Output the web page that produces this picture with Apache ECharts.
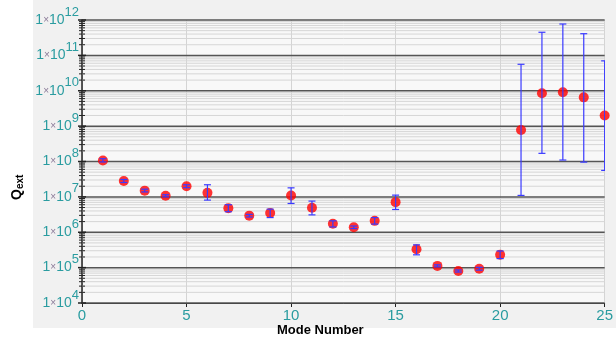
<!DOCTYPE html>
<html><head><meta charset="utf-8">
<script src="https://cdn.jsdelivr.net/npm/echarts@6/dist/echarts.min.js"></script>
<style>html,body{margin:0;padding:0;background:#fff}#c{width:616px;height:340px}</style>
</head><body><div id="c"></div>
<script>
// Mode numbers and Q_ext values with error bar limits
var modes = [1,2,3,4,5,6,7,8,9,10,11,12,13,14,15,16,17,18,19,20,21,22,23,24,25];
var qext = [1.07e8,2.8e7,1.5e7,1.07e7,2.0e7,1.3e7,4.8e6,2.95e6,3.5e6,1.1e7,4.9e6,1.74e6,1.38e6,2.1e6,7.1e6,3.3e5,1.12e5,8.0e4,9.3e4,2.3e5,7.8e8,8.5e9,9.1e9,6.5e9,2.0e9];
var qHigh = [1.2e8,3.1e7,1.65e7,1.15e7,2.2e7,2.2e7,6.0e6,3.2e6,4.5e6,1.8e7,7.6e6,2.1e6,1.5e6,2.6e6,1.12e7,4.4e5,1.2e5,8.6e4,1.02e5,2.95e5,5.6e10,4.5e11,7.7e11,4.1e11,7.0e10];
var qLow = [0.97e8,2.55e7,1.38e7,1.0e7,1.82e7,8.1e6,3.8e6,2.7e6,2.6e6,6.5e6,3.1e6,1.41e6,1.27e6,1.7e6,4.4e6,2.3e5,1.05e5,7.5e4,8.5e4,1.8e5,1.1e7,1.7e8,1.1e8,9.6e7,5.6e7];
var xTicks = [0,5,10,15,20,25];
var yDecades = [4,5,6,7,8,9,10,11,12];

var teal = '#2a9ca0';
var minorVals = [];
for (var d = 4; d < 12; d++) for (var m = 2; m <= 9; m++) minorVals.push([m * Math.pow(10, d)]);
var majorVals = yDecades.map(function(e){return [Math.pow(10,e)];});

var chart = echarts.init(document.getElementById('c'));
chart.setOption({
  backgroundColor: '#ffffff',
  animation: false,
  graphic: [
    {type:'rect', z:-10, shape:{x:33,y:0,width:583,height:328}, style:{fill:'#f1f1f1'}},
    {type:'text', left: 277, top: 324, style:{text:'Mode Number', font:'bold 13px "Liberation Sans", Arial', fill:'#000'}},
    {type:'text', x: 9, y: 200, rotation: Math.PI/2, style:{
      text:'{q|Q}{s|ext}', rich:{q:{font:'bold 14px "Liberation Sans", Arial', fill:'#000'}, s:{font:'bold 10px "Liberation Sans", Arial', fill:'#000', padding:[6,0,0,0]}}}}
  ],
  grid: {left: 82, right: 9, top: 20, bottom: 37, show: true, backgroundColor: '#f8f8f8', borderWidth: 0},
  xAxis: {
    type: 'value', min: 0, max: 25, interval: 5,
    axisLine: {show: true, lineStyle: {color: '#222', width: 1}},
    axisTick: {show: true, length: 4, lineStyle:{color:'#222'}},
    axisLabel: {color: teal, fontSize: 15, fontFamily: '"Liberation Sans", Arial', margin: 5},
    splitLine: {show: true, lineStyle: {color: '#d4d4d4', width: 1}}
  },
  yAxis: {
    type: 'log', logBase: 10, min: 1e4, max: 1e12, splitNumber: 8,
    axisLine: {show: true, onZero: false, lineStyle: {color: '#222', width: 1.5}},
    axisTick: {show: false},
    axisLabel: {
      margin: 3,
      formatter: function(v){ var e = Math.round(Math.log10(v)); return '{a|1}{x|×}{a|10}{s|' + e + '}'; },
      rich: {
        a: {color: teal, fontSize: 14, fontFamily: '"Liberation Sans", Arial', verticalAlign: 'middle'},
        x: {color: '#8a7a98', fontSize: 10, fontFamily: '"Liberation Sans", Arial', verticalAlign: 'middle'},
        s: {color: teal, fontSize: 13, fontFamily: '"Liberation Sans", Arial', verticalAlign: 'top', padding: [0,0,16,0]}
      }
    },
    splitLine: {show: false}
  },
  series: [
    {
      type: 'custom', name: 'minor', silent: true, clip: false, z: 1,
      data: minorVals,
      encode: {y: 0},
      renderItem: function(params, api){
        var v = api.value(0);
        var p0 = api.coord([0, v]), p1 = api.coord([25, v]);
        return {type:'group', children:[
          {type:'line', shape:{x1:p0[0], y1:p0[1], x2:p1[0], y2:p1[1]}, style:{stroke:'#d6d6d6', lineWidth:1}},
          {type:'line', shape:{x1:p0[0]-3, y1:p0[1], x2:p0[0]+3, y2:p0[1]}, style:{stroke:'#222', lineWidth:1}}
        ]};
      }
    },
    {
      type: 'custom', name: 'major', silent: true, clip: false, z: 2,
      data: majorVals,
      encode: {y: 0},
      renderItem: function(params, api){
        var v = api.value(0);
        var p0 = api.coord([0, v]), p1 = api.coord([25, v]);
        return {type:'group', children:[
          {type:'line', shape:{x1:p0[0], y1:p0[1], x2:p1[0], y2:p1[1]}, style:{stroke:'#555', lineWidth:1.5}},
          {type:'line', shape:{x1:p0[0]-4, y1:p0[1], x2:p0[0]+4, y2:p0[1]}, style:{stroke:'#222', lineWidth:1.5}}
        ]};
      }
    },
    {
      type: 'scatter', name: 'Qext', z: 5,
      data: modes.map(function(m,i){return [m, qext[i]];}),
      symbol: 'circle', symbolSize: 10,
      itemStyle: {color: '#ff0000'},
      clip: true
    },
    {
      type: 'custom', name: 'err', z: 6, clip: true,
      data: modes.map(function(m,i){return [m, qLow[i], qHigh[i]];}),
      encode: {x: 0, y: [1,2]},
      renderItem: function(params, api){
        var x = api.value(0);
        var lo = api.coord([x, api.value(1)]), hi = api.coord([x, api.value(2)]);
        var w = 3.5;
        var st = {stroke:'#3a3aff', lineWidth:1.2};
        return {type:'group', children:[
          {type:'line', shape:{x1:lo[0], y1:lo[1], x2:hi[0], y2:hi[1]}, style:st},
          {type:'line', shape:{x1:lo[0]-w, y1:lo[1], x2:lo[0]+w, y2:lo[1]}, style:st},
          {type:'line', shape:{x1:hi[0]-w, y1:hi[1], x2:hi[0]+w, y2:hi[1]}, style:st}
        ]};
      }
    }
  ]
});
</script></body></html>
